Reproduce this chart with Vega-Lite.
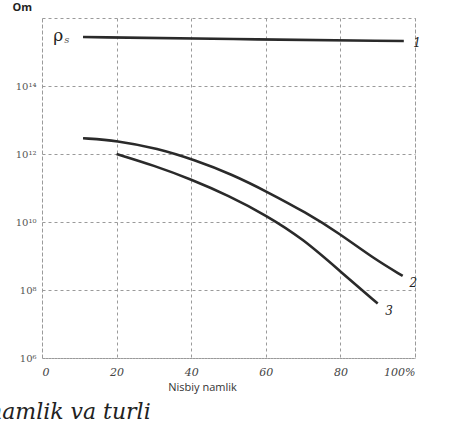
{
  "$schema": "https://vega.github.io/schema/vega-lite/v6.json",
  "width": 373,
  "height": 340,
  "autosize": "none",
  "padding": {"left": 42, "top": 18, "right": 38, "bottom": 68},
  "background": "white",
  "title": {"text": "namlik va turli", "orient": "bottom", "anchor": "start", "frame": "bounds", "dx": -24, "offset": 10,
    "font": "DejaVu Serif", "fontStyle": "italic", "fontWeight": "normal", "fontSize": 22, "color": "#222"},
  "config": {
    "view": {"stroke": "#9a9a9a", "strokeDash": [3, 3], "strokeWidth": 1},
    "axis": {"gridColor": "#9a9a9a", "gridDash": [3, 3], "gridOpacity": 1, "domain": false, "ticks": false}
  },
  "data": {"values": [
    {"curve": "1", "h": 11, "r": 2.75e15},
    {"curve": "1", "h": 50, "r": 2.4e15},
    {"curve": "1", "h": 97, "r": 2.1e15},
    {"curve": "2", "h": 11, "r": 2.9e12},
    {"curve": "2", "h": 20, "r": 2.5e12},
    {"curve": "2", "h": 31, "r": 1.45e12},
    {"curve": "2", "h": 41, "r": 6.6e11},
    {"curve": "2", "h": 51, "r": 2.5e11},
    {"curve": "2", "h": 60.5, "r": 7.6e10},
    {"curve": "2", "h": 70.7, "r": 1.9e10},
    {"curve": "2", "h": 79.5, "r": 4.8e9},
    {"curve": "2", "h": 89, "r": 8.3e8},
    {"curve": "2", "h": 96.7, "r": 2.6e8},
    {"curve": "3", "h": 20, "r": 1.0e12},
    {"curve": "3", "h": 30, "r": 4.6e11},
    {"curve": "3", "h": 40, "r": 1.8e11},
    {"curve": "3", "h": 50, "r": 6.0e10},
    {"curve": "3", "h": 60, "r": 1.6e10},
    {"curve": "3", "h": 70, "r": 3.2e9},
    {"curve": "3", "h": 80, "r": 3.5e8},
    {"curve": "3", "h": 90, "r": 4.0e7}
  ]},
  "layer": [
    {
      "mark": {"type": "line", "color": "#2a2a2a", "strokeWidth": 2.6, "interpolate": "basis"},
      "encoding": {
        "x": {"field": "h", "type": "quantitative",
          "scale": {"domain": [0, 100], "nice": false},
          "axis": {"values": [0, 20, 40, 60, 80, 100], "labelExpr": "datum.value == 100 ? '100%' : datum.label",
            "labelFont": "DejaVu Serif", "labelFontStyle": "italic", "labelFontSize": 11, "labelColor": "#444", "labelPadding": 8,
            "title": "Nisbiy namlik", "titleFont": "Open Sans", "titleFontWeight": "normal", "titleFontSize": 11, "titleColor": "#333", "titlePadding": 4, "titleX": 160}},
        "y": {"field": "r", "type": "quantitative",
          "scale": {"type": "log", "domain": [1e6, 1e16], "nice": false},
          "axis": {"values": [1e6, 1e8, 1e10, 1e12, 1e14],
            "labelExpr": "'10' + ({'6':'⁶','8':'⁸','10':'¹⁰','12':'¹²','14':'¹⁴'})[format(log(datum.value)/LN10, '.0f')]",
            "labelFont": "DejaVu Serif", "labelFontSize": 10, "labelColor": "#555", "labelPadding": 6,
            "title": "Om", "titleAngle": 0, "titleX": -30, "titleY": -6, "titleAlign": "left", "titleBaseline": "bottom",
            "titleFont": "Open Sans", "titleFontWeight": "bold", "titleFontSize": 11, "titleColor": "#222"}},
        "detail": {"field": "curve"}
      }
    },
    {
      "data": {"values": [
        {"t": "1", "h": 99.5, "r": 1.8e15},
        {"t": "2", "h": 98.5, "r": 1.6e8},
        {"t": "3", "h": 92, "r": 2.4e7}
      ]},
      "mark": {"type": "text", "font": "DejaVu Serif", "fontStyle": "italic", "fontSize": 12, "color": "#222", "align": "left", "baseline": "middle"},
      "encoding": {
        "x": {"field": "h", "type": "quantitative"},
        "y": {"field": "r", "type": "quantitative"},
        "text": {"field": "t"}
      }
    },
    {
      "data": {"values": [{"t": "ρ", "s": "s", "h": 3, "r": 2.9e15}]},
      "layer": [
        {"mark": {"type": "text", "font": "DejaVu Serif", "fontSize": 17, "color": "#222", "align": "left", "baseline": "middle"},
         "encoding": {"x": {"field": "h", "type": "quantitative"}, "y": {"field": "r", "type": "quantitative"}, "text": {"field": "t"}}},
        {"mark": {"type": "text", "font": "DejaVu Serif", "fontStyle": "italic", "fontSize": 10, "color": "#555", "align": "left", "baseline": "middle", "dx": 11, "dy": 4},
         "encoding": {"x": {"field": "h", "type": "quantitative"}, "y": {"field": "r", "type": "quantitative"}, "text": {"field": "s"}}}
      ]
    }
  ]
}
